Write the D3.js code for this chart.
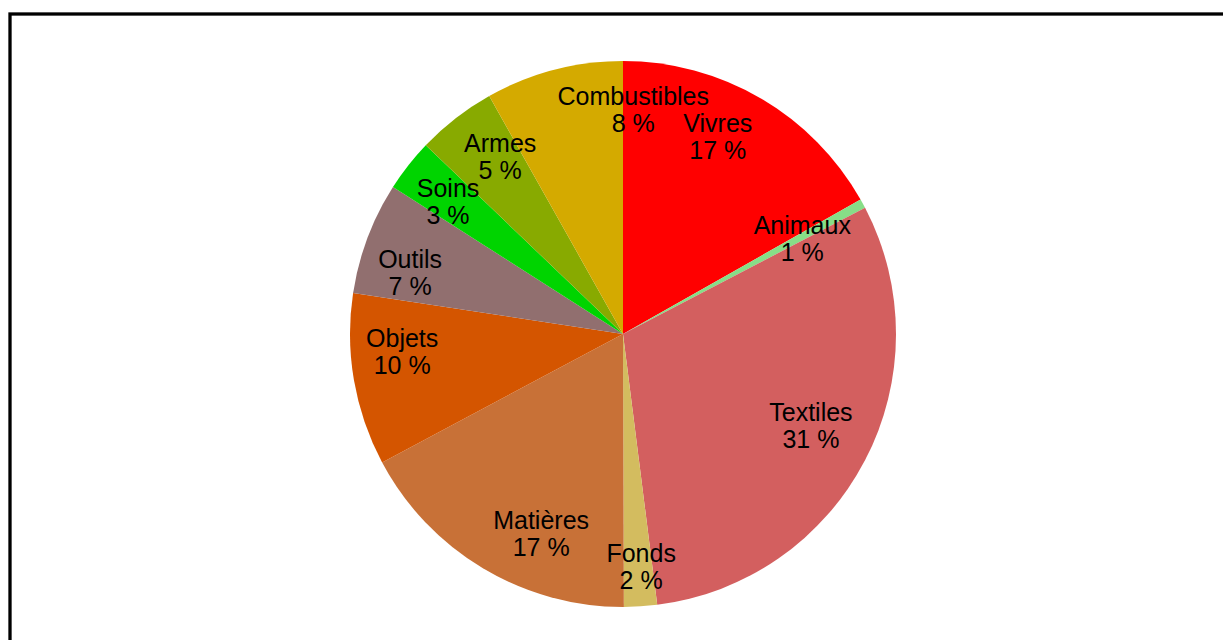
<!DOCTYPE html>
<html>
<head>
<meta charset="utf-8">
<script src="https://cdn.jsdelivr.net/npm/d3@7"></script>
<style>
  body { margin: 0; background: #fff; }
  svg { display: block; }
</style>
</head>
<body>
<div id="chart"></div>
<script>
// data, clockwise from 12 o'clock
const categories = ["Vivres", "Animaux", "Textiles", "Fonds", "Matières", "Objets", "Outils", "Soins", "Armes", "Combustibles"];
const shares = [16.8, 0.55, 30.65, 1.95, 17.25, 10.2, 6.65, 3.1, 4.7, 8.15];
const colors = ["#ff0000", "#87de87", "#d35f5f", "#d3bc5f", "#c87137", "#d45500", "#916f6f", "#00d400", "#88aa00", "#d4aa00"];

// label nudges (px) from the plain centroid, to follow the original layout
const labelNudge = [[-16, -7], [-14, 10], [-7, -11], [4, 13], [31, 11], [-4, -20], [-7, 16], [-2, 3], [12, -4], [66, -12]];

const width = 1223, height = 640;
const cx = 623, cy = 334, radius = 273;

const svg = d3.select("#chart")
  .append("svg")
    .attr("width", width)
    .attr("height", height);

// frame
svg.append("rect")
  .attr("x", 10)
  .attr("y", 14)
  .attr("width", width + 20)
  .attr("height", height + 20)
  .attr("fill", "none")
  .attr("stroke", "#000")
  .attr("stroke-width", 3.3);

const rows = categories.map((c, i) => ({ name: c, value: shares[i], color: colors[i], nudge: labelNudge[i] }));

const pie = d3.pie()
  .sort(null)
  .value(d => d.value);

const arc = d3.arc().innerRadius(0).outerRadius(radius);
const labelArc = d3.arc().innerRadius(220).outerRadius(220);

const g = svg.append("g")
  .attr("transform", "translate(" + cx + "," + cy + ")");

const arcs = pie(rows);

g.selectAll("path.slice")
  .data(arcs)
  .enter()
  .append("path")
    .attr("class", "slice")
    .attr("d", arc)
    .attr("fill", d => d.data.color);

const labels = g.selectAll("text.lbl")
  .data(arcs)
  .enter()
  .append("text")
    .attr("class", "lbl")
    .attr("transform", d => {
      const p = labelArc.centroid(d);
      return "translate(" + (p[0] + d.data.nudge[0]) + "," + (p[1] + d.data.nudge[1]) + ")";
    })
    .attr("text-anchor", "middle")
    .style("font-family", "'Liberation Sans', Arial, sans-serif")
    .style("font-size", "25px")
    .attr("fill", "#000");

labels.append("tspan")
  .attr("x", 0)
  .attr("y", -4.5)
  .text(d => d.data.name);

labels.append("tspan")
  .attr("x", 0)
  .attr("y", 22.5)
  .text(d => Math.round(d.data.value) + " %");
</script>
</body>
</html>
